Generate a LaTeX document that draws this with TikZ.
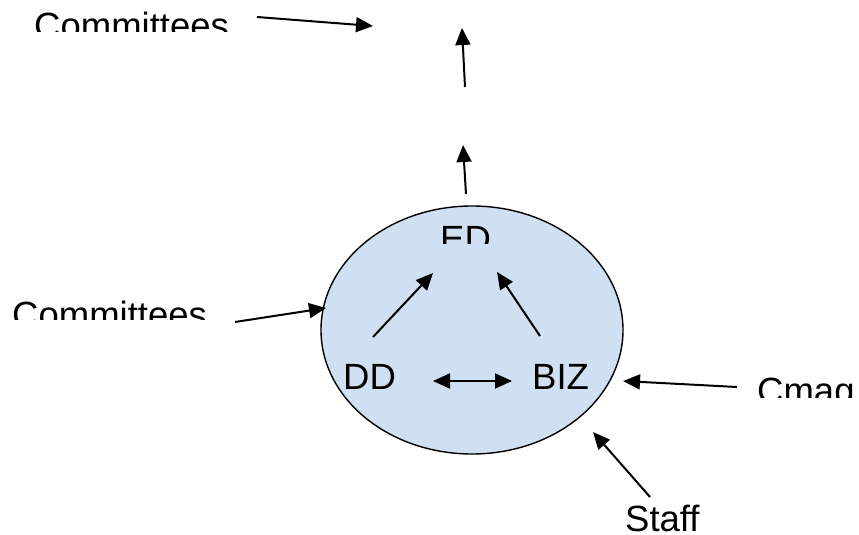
\documentclass[tikz,border=0pt]{standalone}
\usepackage{fontspec}
\setmainfont{Liberation Sans}
\usetikzlibrary{arrows.meta,shapes.geometric}
\definecolor{orgfill}{RGB}{207,224,242}
\tikzset{
  lbl/.style={anchor=base west, inner sep=0pt, font=\fontsize{36.5}{40}\selectfont},
  tip/.tip={Triangle[length=17pt,width=15pt]},
  flow/.style={line width=2pt, -tip},
  both/.style={line width=2pt, tip-tip},
  org/.style={ellipse, draw, line width=1.4pt, fill=orgfill, minimum width=302pt, minimum height=248pt, inner sep=0pt}
}
\begin{document}
\begin{tikzpicture}[x=1pt,y=-1pt]
\useasboundingbox (0,0) rectangle (859,535);

% organisation ellipse
\node[org] (org) at (472,330) {};

% labels (text boxes cut off at their lower edges)
\begin{scope}\clip (0,0) rectangle (300,32);
  \node[lbl] (comtop) at (34,38) {Committees};
\end{scope}
\begin{scope}\clip (0,280) rectangle (300,319);
  \node[lbl] (comleft) at (12,327) {Committees};
\end{scope}
\begin{scope}\clip (420,200) rectangle (520,243);
  \node[lbl] (ed) at (440,251) {ED};
\end{scope}
\node[lbl] (dd) at (343,389) {DD};
\node[lbl] (biz) at (532,389) {BIZ};
\begin{scope}\clip (740,360) rectangle (859,397);
  \node[lbl] (cmag) at (757,403) {Cmag};
\end{scope}
\node[lbl] (staff) at (625,531) {Staff};

% connector end points
\coordinate (c1a) at (257,17);  \coordinate (c1b) at (373,26);
\coordinate (v1a) at (465,87);  \coordinate (v1b) at (462,28);
\coordinate (v2a) at (466,194); \coordinate (v2b) at (463,145);
\coordinate (dda) at (373,337); \coordinate (ddb) at (433,273);
\coordinate (bza) at (540,336); \coordinate (bzb) at (497,272);
\coordinate (hla) at (433,381); \coordinate (hlb) at (512,381);
\coordinate (cla) at (235,322); \coordinate (clb) at (326,308);
\coordinate (cma) at (737,387); \coordinate (cmb) at (623,381);
\coordinate (sta) at (650,497); \coordinate (stb) at (593,432);

% connectors
\draw[flow] (c1a) -- (c1b);
\draw[flow] (v1a) -- (v1b);
\draw[flow] (v2a) -- (v2b);
\draw[flow] (dda) -- (ddb);
\draw[flow] (bza) -- (bzb);
\draw[both] (hla) -- (hlb);
\draw[flow] (cla) -- (clb);
\draw[flow] (cma) -- (cmb);
\draw[flow] (sta) -- (stb);
\end{tikzpicture}
\end{document}
